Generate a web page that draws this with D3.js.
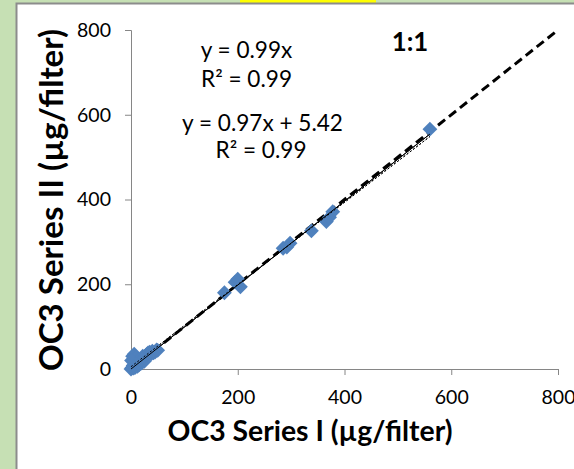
<!DOCTYPE html>
<html>
<head>
<meta charset="utf-8">
<script src="https://d3js.org/d3.v7.min.js"></script>
<style>
body { margin: 0; background: #c6e0b4; }
svg { display: block; font-family: Lato, "Open Sans", sans-serif; }
</style>
</head>
<body>
<svg id="myGraph" width="574" height="469"></svg>
<script>
// 데이터셋 (Series I, Series II)
var seriesI = [0, 2, 5, 8, 4, 12, 15, 20, 25, 8, 12, 3, 6, 10, 1, 18, 20, 22, 25, 28, 30, 32, 35, 38, 40, 42, 45, 48, 50,
  175, 195, 200, 205, 285, 292, 298, 338, 366, 372, 378, 560];
var seriesII = [0, 3, 2, 4, 8, 6, 10, 14, 18, 12, 15, 30, 35, 28, 20, 22, 25, 30, 28, 32, 35, 38, 40, 36, 42, 38, 40, 45, 44,
  180, 205, 212, 194, 285, 288, 297, 326, 348, 358, 371, 566];
var xTicks = [0, 200, 400, 600, 800];
var yTicks = [0, 200, 400, 600, 800];
var fit1 = { slope: 0.99, intercept: 0, label: "y = 0.99x", r2: "R² = 0.99" };
var fit2 = { slope: 0.97, intercept: 5.42, label: "y = 0.97x + 5.42", r2: "R² = 0.99" };
var xTitle = "OC3 Series I (µg/filter)";
var yTitle = "OC3 Series II (µg/filter)";

var svg = d3.select("#myGraph");
// 배경
svg.append("rect").attr("x", 240).attr("y", 0).attr("width", 136).attr("height", 4).style("fill", "#ffff00");
svg.append("rect").attr("x", 16.5).attr("y", 3.5).attr("width", 570).attr("height", 480)
  .style("fill", "#ffffff").style("stroke", "#8c8c8c").style("stroke-width", 2);

var x = d3.scaleLinear().domain([0, 800]).range([131, 558]);
var y = d3.scaleLinear().domain([0, 800]).range([369, 30]);

// 글자 넓이에 맞춰 폰트 크기 계산
function fitSize(t, bold, width) {
  var tmp = svg.append("text").style("font-size", "20px").style("font-weight", bold ? "bold" : "normal").text(t);
  var len = tmp.node().getComputedTextLength();
  tmp.remove();
  return 20 * width / len;
}
var tickSize = fitSize("600", false, 34);
var eqSize = fitSize(fit2.label, false, 161);

// 축
var xAxis = svg.append("g").attr("transform", "translate(0,369)")
  .call(d3.axisBottom(x).tickValues(xTicks).tickSize(6).tickPadding(15));
var yAxis = svg.append("g").attr("transform", "translate(131,0)")
  .call(d3.axisLeft(y).tickValues(yTicks).tickSize(6).tickPadding(14));
[xAxis, yAxis].forEach(function(a) {
  a.selectAll("path, line").style("stroke", "#868686").style("stroke-width", 1);
  a.selectAll("text").style("font-size", tickSize + "px").style("fill", "#000").style("font-family", "Lato, 'Open Sans', sans-serif");
});

// 1:1 선
svg.append("line")
  .attr("x1", x(0)).attr("y1", y(0)).attr("x2", x(800)).attr("y2", y(800))
  .style("stroke", "#000").style("stroke-width", 3).style("stroke-dasharray", "9,5");

var maxX = d3.max(seriesI);
function trendLines() {
  [fit1, fit2].forEach(function(f, i) {
    svg.append("line")
      .attr("x1", x(0)).attr("y1", y(f.intercept))
      .attr("x2", x(maxX)).attr("y2", y(f.slope * maxX + f.intercept))
      .style("stroke", "#000").style("stroke-width", 1)
      .style("stroke-dasharray", i === 1 ? "2,2" : null);
  });
}
trendLines();

// 데이터 점 (다이아몬드)
svg.selectAll("path.pt").data(seriesI).enter()
  .append("path").attr("class", "pt")
  .attr("d", d3.symbol().type(d3.symbolSquare).size(110))
  .attr("transform", function(d, i) {
    return "translate(" + x(d) + "," + y(seriesII[i]) + ") rotate(45)";
  })
  .style("fill", "#4f81bd");

trendLines();	// 점 위에 다시 그림

// 텍스트
function label(t, cx, cy, size, bold) {
  return svg.append("text").attr("x", cx).attr("y", cy).attr("text-anchor", "middle")
    .style("font-size", size + "px").style("font-weight", bold ? "bold" : "normal").text(t);
}
label(fit1.label, 246.5, 58, eqSize);
label(fit1.r2, 246.5, 87, eqSize);
label(fit2.label, 262.5, 131, eqSize);
label(fit2.r2, 261, 158, eqSize);
label("1:1", 410, 51, fitSize("1:1", true, 36.5), true);
label(xTitle, 310, 441, fitSize(xTitle, true, 285), true);

svg.append("text").attr("transform", "translate(63,200) rotate(-90)")
  .attr("text-anchor", "middle").style("font-size", fitSize(yTitle, true, 342) + "px").style("font-weight", "bold")
  .text(yTitle);
</script>
</body>
</html>
